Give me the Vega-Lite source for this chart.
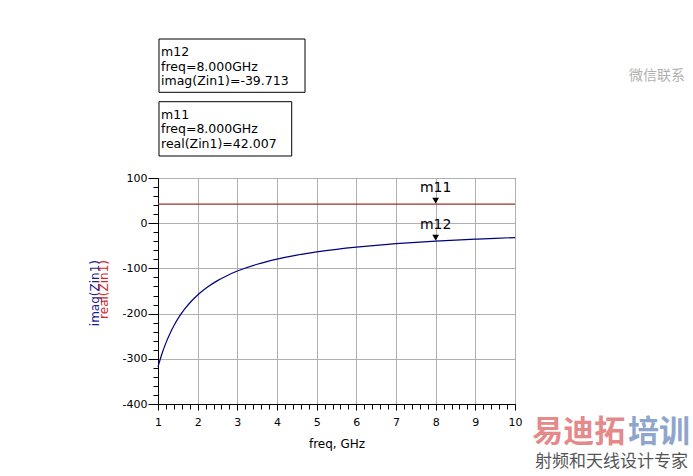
{
  "$schema": "https://vega.github.io/schema/vega-lite/v6.json",
  "autosize": {"type": "none"},
  "padding": {"left": 158, "top": 178, "right": 178, "bottom": 72},
  "width": 357,
  "height": 226,
  "background": "white",
  "config": {
    "view": {"stroke": "black", "strokeWidth": 1},
    "font": "DejaVu Sans"
  },
  "datasets": {
    "curves": [
      {"freq": 1, "value": -317.70, "series": "imag"},
      {"freq": 1.1, "value": -288.82, "series": "imag"},
      {"freq": 1.2, "value": -264.75, "series": "imag"},
      {"freq": 1.3, "value": -244.39, "series": "imag"},
      {"freq": 1.4, "value": -226.93, "series": "imag"},
      {"freq": 1.5, "value": -211.80, "series": "imag"},
      {"freq": 1.6, "value": -198.57, "series": "imag"},
      {"freq": 1.7, "value": -186.88, "series": "imag"},
      {"freq": 1.8, "value": -176.50, "series": "imag"},
      {"freq": 1.9, "value": -167.21, "series": "imag"},
      {"freq": 2, "value": -158.85, "series": "imag"},
      {"freq": 2.25, "value": -141.20, "series": "imag"},
      {"freq": 2.5, "value": -127.08, "series": "imag"},
      {"freq": 2.75, "value": -115.53, "series": "imag"},
      {"freq": 3, "value": -105.90, "series": "imag"},
      {"freq": 3.5, "value": -90.77, "series": "imag"},
      {"freq": 4, "value": -79.43, "series": "imag"},
      {"freq": 4.5, "value": -70.60, "series": "imag"},
      {"freq": 5, "value": -63.54, "series": "imag"},
      {"freq": 5.5, "value": -57.76, "series": "imag"},
      {"freq": 6, "value": -52.95, "series": "imag"},
      {"freq": 6.5, "value": -48.88, "series": "imag"},
      {"freq": 7, "value": -45.39, "series": "imag"},
      {"freq": 7.5, "value": -42.36, "series": "imag"},
      {"freq": 8, "value": -39.71, "series": "imag"},
      {"freq": 8.5, "value": -37.38, "series": "imag"},
      {"freq": 9, "value": -35.30, "series": "imag"},
      {"freq": 9.5, "value": -33.44, "series": "imag"},
      {"freq": 10, "value": -31.77, "series": "imag"},
      {"freq": 1, "value": 42.007, "series": "real"},
      {"freq": 10, "value": 42.007, "series": "real"}
    ],
    "markers": [
      {"freq": 8, "value": 42.007, "name": "m11"},
      {"freq": 8, "value": -39.713, "name": "m12"}
    ],
    "boxes": [
      {"freq": 1.025, "freq2": 4.706, "value": 407.5, "value2": 289.6},
      {"freq": 1.025, "freq2": 4.371, "value": 268.8, "value2": 148.7}
    ],
    "boxtext": [
      {"freq": 1.076, "value": 369.2, "text": "m12\nfreq=8.000GHz\nimag(Zin1)=-39.713"},
      {"freq": 1.076, "value": 230.5, "text": "m11\nfreq=8.000GHz\nreal(Zin1)=42.007"}
    ],
    "ytitle_imag": [{"freq": -0.588, "value": -81.4, "text": "imag(Zin1)"}],
    "ytitle_real": [{"freq": -0.36, "value": -81.4, "text": "real(Zin1)"}],
    "logo_red": [{"freq": 11.61, "value": -464.2, "text": "易迪拓"}],
    "logo_blue": [{"freq": 13.63, "value": -464.2, "text": "培训"}],
    "logo_sub": [{"freq": 12.43, "value": -528.3, "text": "射频和天线设计专家"}],
    "wechat": [{"freq": 13.58, "value": 325.7, "text": "微信联系"}]
  },
  "encoding": {
    "x": {
      "field": "freq",
      "type": "quantitative",
      "scale": {"domain": [1, 10], "nice": false, "zero": false},
      "axis": {
        "title": "freq, GHz",
        "values": [1,1.2,1.4,1.6,1.8,2,2.2,2.4,2.6,2.8,3,3.2,3.4,3.6,3.8,4,4.2,4.4,4.6,4.8,5,5.2,5.4,5.6,5.8,6,6.2,6.4,6.6,6.8,7,7.2,7.4,7.6,7.8,8,8.2,8.4,8.6,8.8,9,9.2,9.4,9.6,9.8,10],
        "labelExpr": "abs(datum.value - round(datum.value)) < 0.01 ? toString(round(datum.value)) : ''",
        "labelFont": "DejaVu Sans",
        "labelFontSize": 11,
        "labelColor": "black",
        "labelPadding": 6,
        "labelOverlap": false,
        "labelFlush": false,
        "labelBound": false,
        "tickColor": "black",
        "tickSize": {"condition": {"test": "abs(datum.value - round(datum.value)) < 0.01", "value": 6}, "value": 5},
        "domainColor": "black",
        "grid": true,
        "gridColor": "#b0b0b0",
        "gridWidth": 1,
        "gridOpacity": {"condition": {"test": "abs(datum.value - round(datum.value)) < 0.01", "value": 1}, "value": 0},
        "titleFont": "DejaVu Sans",
        "titleFontSize": 12,
        "titleFontWeight": "normal",
        "titleColor": "black",
        "titlePadding": 11
      }
    },
    "y": {
      "field": "value",
      "type": "quantitative",
      "scale": {"domain": [-400, 100], "nice": false, "zero": false},
      "axis": {
        "title": null,
        "values": [-400,-380,-360,-340,-320,-300,-280,-260,-240,-220,-200,-180,-160,-140,-120,-100,-80,-60,-40,-20,0,20,40,60,80,100],
        "labelExpr": "datum.value % 100 === 0 ? toString(datum.value) : ''",
        "labelFont": "DejaVu Sans",
        "labelFontSize": 11,
        "labelColor": "black",
        "labelPadding": 1,
        "labelOverlap": false,
        "labelFlush": false,
        "labelBound": false,
        "tickColor": "black",
        "tickSize": {"condition": {"test": "datum.value % 100 === 0", "value": 10}, "value": 5},
        "domainColor": "black",
        "grid": true,
        "gridColor": "#b0b0b0",
        "gridWidth": 1,
        "gridOpacity": {"condition": {"test": "datum.value % 100 === 0", "value": 1}, "value": 0}
      }
    }
  },
  "layer": [
    {
      "data": {"name": "curves"},
      "mark": {"type": "line", "strokeWidth": 1.2, "interpolate": "monotone"},
      "encoding": {
        "color": {
          "field": "series",
          "type": "nominal",
          "scale": {"domain": ["imag", "real"], "range": ["#000080", "#a02c2c"]},
          "legend": null
        }
      }
    },
    {
      "data": {"name": "markers"},
      "mark": {"type": "point", "shape": "triangle-down", "filled": true, "color": "black", "opacity": 1, "size": 45, "yOffset": -3.5}
    },
    {
      "data": {"name": "markers"},
      "mark": {"type": "text", "fontSize": 14, "font": "DejaVu Sans", "color": "black", "baseline": "alphabetic", "align": "center", "yOffset": -12},
      "encoding": {"text": {"field": "name"}}
    },
    {
      "data": {"name": "boxes"},
      "mark": {"type": "rect", "fill": "white", "stroke": "black", "strokeWidth": 1},
      "encoding": {
        "x2": {"field": "freq2"},
        "y2": {"field": "value2"}
      }
    },
    {
      "data": {"name": "boxtext"},
      "mark": {"type": "text", "fontSize": 12.5, "font": "DejaVu Sans", "color": "black", "align": "left", "baseline": "alphabetic", "lineBreak": "\n", "lineHeight": 14.4},
      "encoding": {"text": {"field": "text"}}
    },
    {
      "data": {"name": "ytitle_imag"},
      "mark": {"type": "text", "fontSize": 12, "font": "DejaVu Sans", "color": "#1a1a9a", "angle": 270, "align": "right", "baseline": "middle"},
      "encoding": {"text": {"field": "text"}}
    },
    {
      "data": {"name": "ytitle_real"},
      "mark": {"type": "text", "fontSize": 12, "font": "DejaVu Sans", "color": "#d02828", "angle": 270, "align": "right", "baseline": "middle"},
      "encoding": {"text": {"field": "text"}}
    },
    {
      "data": {"name": "logo_red"},
      "mark": {"type": "text", "fontSize": 31, "font": "Noto Sans CJK SC", "fontWeight": "bold", "color": "#e48a8a", "align": "center", "baseline": "middle"},
      "encoding": {"text": {"field": "text"}}
    },
    {
      "data": {"name": "logo_blue"},
      "mark": {"type": "text", "fontSize": 31, "font": "Noto Sans CJK SC", "fontWeight": "bold", "color": "#8fa6cc", "align": "center", "baseline": "middle"},
      "encoding": {"text": {"field": "text"}}
    },
    {
      "data": {"name": "logo_sub"},
      "mark": {"type": "text", "fontSize": 17, "font": "Noto Sans CJK SC", "color": "#555555", "align": "center", "baseline": "middle"},
      "encoding": {"text": {"field": "text"}}
    },
    {
      "data": {"name": "wechat"},
      "mark": {"type": "text", "fontSize": 14, "font": "Noto Sans CJK SC", "color": "#b0b0b0", "align": "center", "baseline": "middle"},
      "encoding": {"text": {"field": "text"}}
    }
  ]
}
